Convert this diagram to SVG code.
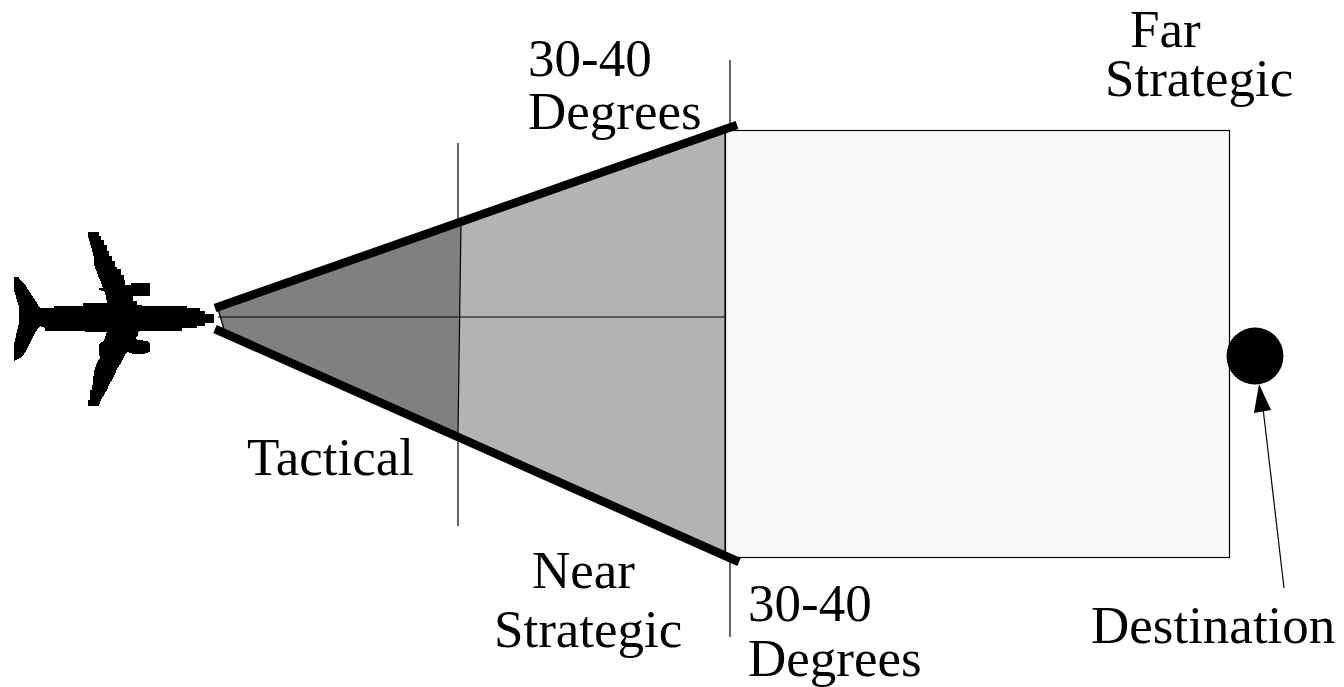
<svg xmlns="http://www.w3.org/2000/svg" width="1344" height="687" viewBox="0 0 1344 687">
<style>
text{font-family:"Liberation Serif","Times New Roman",serif;font-size:53px;fill:#000}
.thin{stroke:#000;stroke-width:1.2;fill:none}
.thick{stroke:#000;stroke-width:8.500;fill:none}
</style>
<rect width="1344" height="687" fill="#fff"/>
<g id="far-strategic-region"><rect x="725.500" y="130.500" width="504" height="427" fill="#f7f7f7" stroke="#000" stroke-width="1.200"/></g>
<g id="near-strategic-region"><polygon points="725,130 725,557 458,436 460,220" fill="#b3b3b3"/></g>
<g id="tactical-region"><polygon points="218,309 461,222 458,436 224,333" fill="#808080"/></g>
<g id="connectors">
<path class="thin" d="M730 60V128M730 556V637M458 143V222M458 433V526M461 222L458 433M218 317H725M725 130V557M218 309L224 329"/>
<path class="thick" d="M215 308L737 125M215 329L739 562"/>
<path class="thin" d="M1284 588L1263 408"/>
<polygon points="1259,384 1271,410 1254,413" fill="#000"/>
</g>
<g id="airplane"><polygon shape-rendering="crispEdges" points="88,232 99,232 99,236 101,236 101,240 104,240 104,245 107,245 107,251 109,251 109,256 112,256 112,261 115,261 115,267 117,267 117,269 121,269 121,275 124,275 124,280 125,280 125,285 131,285 131,283 150,283 150,296 133,296 133,301 137,301 137,305 142,305 142,306 187,306 187,308 200,308 200,311 205,311 205,314 214,314 214,323 205,323 205,326 197,326 197,328 182,328 182,331 140,331 138,332 138,335 135,338 138,340 147,341 150,343 150,352 143,354 133,354 127,352 124,357 121,363 117,369 115,374 112,380 109,385 107,390 104,395 101,400 99,406 88,406 88,400 90,400 90,390 92,390 94,372 97,363 100,358 99,353 99,344 104,341 107,332 62,331 45,331 45,328 40,326 35,333 30,343 26,351 22,357 14,361 14,344 19,323 19,307 14,290 14,277 19,277 19,279 24,283 29,291 35,300 40,308 54,308 54,306 83,306 83,303 107,303 105,292 99,290 99,288 103,288 101,282 99,278 97,272 95,268 94,263 94,258 92,250 90,243 88,236" fill="#000"/></g>
<g id="destination"><circle cx="1255" cy="356" r="28.500" fill="#000"/></g>
<g id="labels">
<text x="528" y="76">30-40</text>
<text x="528" y="129">Degrees</text>
<text x="1130" y="47">Far</text>
<text x="1105" y="96">Strategic</text>
<text x="247" y="475">Tactical</text>
<text x="532" y="588">Near</text>
<text x="494" y="647">Strategic</text>
<text x="748" y="621">30-40</text>
<text x="748" y="676">Degrees</text>
<text x="1091" y="643">Destination</text>
</g>
</svg>
